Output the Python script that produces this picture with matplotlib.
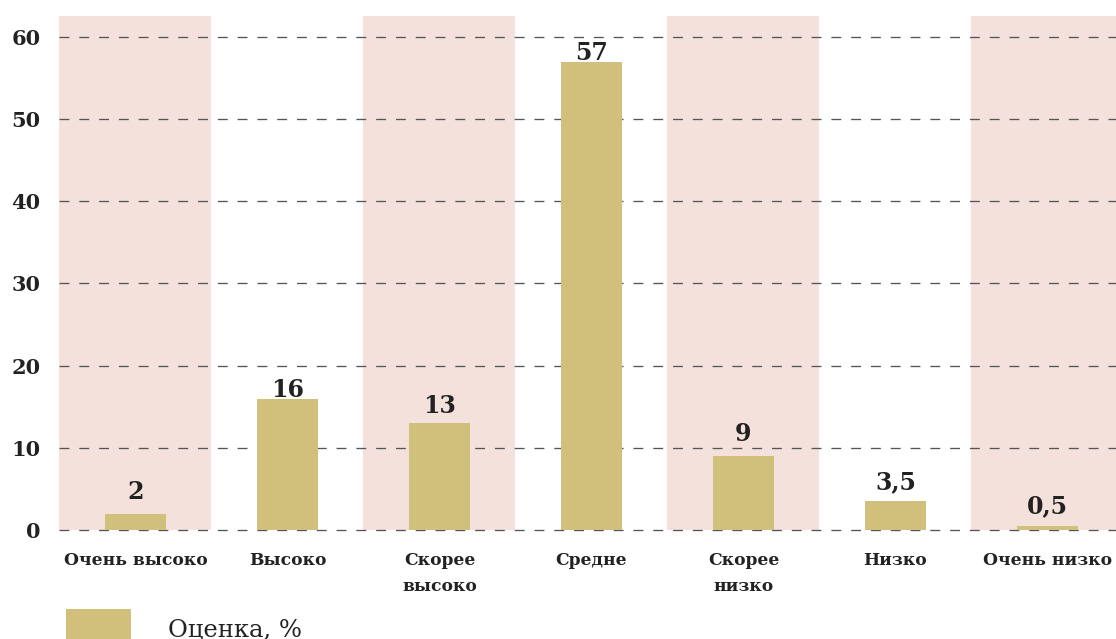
import matplotlib
matplotlib.use("Agg")
import matplotlib.pyplot as plt
from matplotlib.patches import Rectangle

categories = ["Очень высоко", "Высоко", "Скорее\nвысоко", "Средне", "Скорее\nнизко", "Низко", "Очень низко"]
values = [2, 16, 13, 57, 9, 3.5, 0.5]
value_labels = ["2", "16", "13", "57", "9", "3,5", "0,5"]
yticks = [0, 10, 20, 30, 40, 50, 60]
legend_label = "Оценка, %"

# style: pixel gap between bar top and value-label baseline
label_gaps_px = [15, 2, 10, 2, 15, 12, 13]

BAR = "#D0C07C"
PINK = "#F5E1DC"
TXT = "#222222"
FONT = "DejaVu Serif"

W, H = 1116, 639
fig = plt.figure(figsize=(W / 100, H / 100), dpi=100)
left, right, bottom, top = 59.5, 1116, 530, 16
ax = fig.add_axes([left / W, 1 - bottom / H, (right - left) / W, (bottom - top) / H])

x = list(range(len(categories)))
for i in x:
    if i % 2 == 0:
        ax.axvspan(i - 0.5, i + 0.5, color=PINK, lw=0, zorder=0)

for y in yticks:
    ax.axhline(y, color="#555555", lw=0.95, dashes=(7.5, 7.5), zorder=1, clip_on=False)

ax.bar(x, values, width=0.4, color=BAR, zorder=2)
for xi, v, lab, g in zip(x, values, value_labels, label_gaps_px):
    ax.annotate(lab, (xi, v), xytext=(0, g * 0.72), textcoords="offset points",
                ha="center", va="baseline", fontsize=17, fontweight="bold",
                family=FONT, color=TXT)

ax.set_xlim(-0.5, (right - left) / 152 - 0.5)
ax.set_ylim(0, 60 + (530 - 16 - 493) / 8.2167)
ax.set_yticks(yticks)
ax.set_yticklabels([str(t) for t in yticks], fontsize=15, fontweight="bold", family=FONT, color=TXT)
ax.set_xticks(x)
ax.set_xticklabels(categories, fontsize=12.3, fontweight="bold", family=FONT, color=TXT,
                   linespacing=1.7, va="top")
ax.tick_params(axis="both", length=0)
ax.tick_params(axis="x", pad=16)
ax.tick_params(axis="y", pad=13.5)
for s in ax.spines.values():
    s.set_visible(False)

# legend swatch and label
fig.patches.append(Rectangle((66 / W, 0), 65 / W, 30 / H, transform=fig.transFigure,
                             facecolor=BAR, edgecolor="none"))
fig.text(168 / W, 1 - 636 / H, legend_label, family=FONT, fontsize=17.5,
         color=TXT, ha="left", va="baseline")

fig.savefig("out.png", dpi=100)
